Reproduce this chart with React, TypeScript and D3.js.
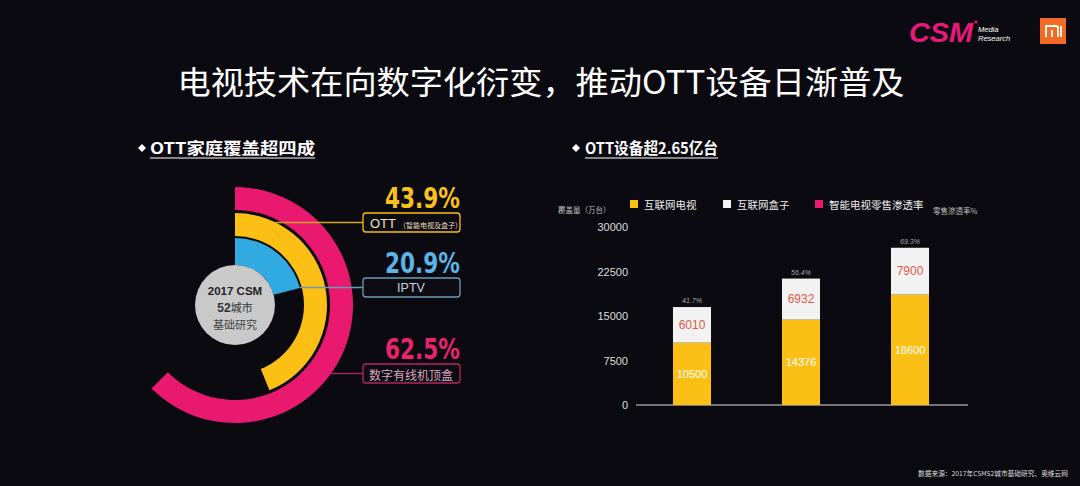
import React from "react";
import * as d3 from "d3";

const W = 1080;
const H = 486;

// Left: household coverage rings
const ringNames = ["数字有线机顶盒", "OTT", "IPTV"];
const ringValues = [62.5, 43.9, 20.9];
const ringLabels = ["62.5%", "43.9%", "20.9%"];

// Right: device stock (万台)
const years = ["2015", "2016", "2017"];
const ottTV = [10500, 14376, 18600];
const ottBox = [6010, 6932, 7900];
const penetration = ["41.7%", "56.4%", "69.3%"];
const yTicks = [0, 7500, 15000, 22500, 30000];
const legendNames = ["互联网电视", "互联网盒子", "智能电视零售渗透率"];

const CJK = "'Noto Sans CJK SC', 'Noto Sans', sans-serif";
const COND = "'DejaVu Sans Condensed', 'Liberation Sans', sans-serif";
const PINK = "#e8196f";
const YEL = "#fbbf15";
const BLUE = "#31aae2";

export default function App() {
  // ---- donut geometry
  const cx = 235, cy = 305;
  const rings = [
    { inner: 95, outer: 118, color: PINK, value: ringValues[0] },
    { inner: 69, outer: 92, color: YEL, value: ringValues[1] },
    { inner: 40, outer: 67, color: BLUE, value: ringValues[2] },
  ];
  const arcGen = d3.arc<any>();

  // label boxes
  const boxX = 363, boxW = 97, boxH = 19;
  const labelRows = [
    { y: 213, color: YEL, line: "#d6a422", pctColor: "#f9c11a", ring: 1, pct: ringLabels[1] },
    { y: 278, color: "#6d9ab8", line: "#6d9ab8", pctColor: "#5cb3e6", ring: 2, pct: ringLabels[2] },
    { y: 364, color: "#b0285e", line: "#b0285e", pctColor: "#e8246e", ring: 0, pct: ringLabels[0] },
  ];

  // ---- bar chart
  const y = d3.scaleLinear().domain([0, 30000]).range([405, 227]);
  const x = d3
    .scaleBand<string>()
    .domain(years)
    .range([637, 965])
    .paddingInner(0.651)
    .paddingOuter(0.33);
  const bw = x.bandwidth();

  return (
    <svg
      width={W}
      height={H}
      style={{ position: "absolute", left: 0, top: 0, display: "block" }}
    >
      <rect width={W} height={H} fill="#0b0a10" />

      {/* logos */}
      <text x={909} y={42} fill="#e8197a" fontFamily="'Liberation Sans', sans-serif" fontWeight="bold" fontStyle="italic" fontSize={27} textLength={64} lengthAdjust="spacingAndGlyphs">CSM</text>
      <circle cx={976} cy={22} r={1.6} fill="#e8197a" />
      <text x={978} y={32} fill="#ffffff" fontFamily="'Liberation Sans', sans-serif" fontStyle="italic" fontSize={7.5}>Media</text>
      <text x={978} y={41} fill="#ffffff" fontFamily="'Liberation Sans', sans-serif" fontStyle="italic" fontSize={7.5}>Research</text>
      <rect x={1040} y={18} width={26} height={26} fill="#f26b22" />
      <path d="M1046 37 V26 H1056 Q1058 26 1058 28 V37 M1052 30 V37 M1061 26 V37" stroke="#fff" strokeWidth={1.8} fill="none" />

      {/* title */}
      <text x={541} y={94} textAnchor="middle" fill="#ffffff" fontFamily={CJK} fontSize={32} textLength={727} lengthAdjust="spacingAndGlyphs">电视技术在向数字化衍变，推动OTT设备日渐普及</text>

      {/* section headers */}
      <path d="M138 148 L142 144 L146 148 L142 152 Z" fill="#fff" />
      <text x={150} y={154} fill="#ffffff" fontFamily={CJK} fontWeight="bold" fontSize={15.5} textLength={165} lengthAdjust="spacingAndGlyphs">OTT家庭覆盖超四成</text>
      <line x1={150} x2={315} y1={158} y2={158} stroke="#fff" strokeWidth={1} />
      <path d="M572 148 L576 144 L580 148 L576 152 Z" fill="#fff" />
      <text x={585} y={154} fill="#ffffff" fontFamily={CJK} fontWeight="bold" fontSize={15.5} textLength={133} lengthAdjust="spacingAndGlyphs">OTT设备超2.65亿台</text>
      <line x1={585} x2={718} y1={158} y2={158} stroke="#fff" strokeWidth={1} />

      {/* rings */}
      <g transform={`translate(${cx},${cy})`}>
        {rings.map((r, i) => (
          <path
            key={ringNames[i]}
            d={arcGen({
              innerRadius: r.inner,
              outerRadius: r.outer,
              startAngle: 0,
              endAngle: (r.value / 100) * 2 * Math.PI,
            }) as string}
            fill={r.color}
          />
        ))}
        <circle r={40} fill="#c9c9c9" />
        <text y={-10} textAnchor="middle" fill="#222" fontFamily="'Liberation Sans', sans-serif" fontWeight="bold" fontSize={11.5}>2017 CSM</text>
        <text y={7} textAnchor="middle" fill="#333" fontFamily={CJK} fontSize={11}>
          <tspan fontWeight="bold" fontFamily="'Liberation Sans', sans-serif" fontSize={12}>52</tspan>城市
        </text>
        <text y={24} textAnchor="middle" fill="#444" fontFamily={CJK} fontSize={11}>基础研究</text>
      </g>

      {/* leader lines & label boxes */}
      {labelRows.map((l, i) => {
        const ly = l.y + boxH / 2;
        const r = rings[l.ring];
        const dy = ly - cy;
        const rr = r.outer;
        const sx = cx + Math.sqrt(Math.max(rr * rr - dy * dy, 0));
        return (
          <g key={i}>
            <line x1={sx} x2={boxX} y1={ly} y2={ly} stroke={l.line} strokeWidth={1.3} />
            <rect x={boxX} y={l.y} width={boxW} height={boxH} rx={3} fill="#0d0c12" stroke={l.color} strokeWidth={1.3} />
            <text x={460} y={l.y - 5} textAnchor="end" fill={l.pctColor} fontFamily={COND} fontWeight="bold" fontSize={28} textLength={75} lengthAdjust="spacingAndGlyphs">{l.pct}</text>
          </g>
        );
      })}
      <text x={370} y={228} fill="#f1e3bd" fontFamily="'Liberation Sans', sans-serif" fontSize={13}>
        OTT
        <tspan dx={3} fontFamily={CJK} fontSize={7} fill="#e8dcc0">（智能电视及盒子）</tspan>
      </text>
      <text x={411} y={292} textAnchor="middle" fill="#c5d3e0" fontFamily="'Liberation Sans', sans-serif" fontSize={12.5}>IPTV</text>
      <text x={411} y={379.5} textAnchor="middle" fill="#d8a4bd" fontFamily={CJK} fontSize={12}>{ringNames[0]}</text>

      {/* legend */}
      <text x={558} y={213} fill="#bbbbbb" fontFamily={CJK} fontSize={7.5}>覆盖量（万台）</text>
      {[
        { sx: 630, color: YEL },
        { sx: 723, color: "#f2f2f2" },
        { sx: 815, color: PINK },
      ].map((lg, i) => (
        <g key={legendNames[i]}>
          <rect x={lg.sx} y={200} width={8} height={8} fill={lg.color} />
          <text x={lg.sx + 14} y={208.5} fill="#eeeeee" fontFamily={CJK} fontSize={10.5}>{legendNames[i]}</text>
        </g>
      ))}
      <text x={933} y={214} fill="#bbbbbb" fontFamily={CJK} fontSize={7.5}>零售渗透率%</text>

      {/* y axis labels */}
      {yTicks.map((t) => (
        <text key={t} x={628} y={y(t) + 4} textAnchor="end" fill="#dddddd" fontFamily="'Liberation Sans', sans-serif" fontSize={11}>{t}</text>
      ))}
      <line x1={636} x2={968} y1={405} y2={405} stroke="#9a9a9a" strokeWidth={1.5} />

      {/* bars */}
      {years.map((yr, i) => {
        const x0 = x(yr) as number;
        const tvTop = y(ottTV[i]);
        const boxTop = y(ottTV[i] + ottBox[i]);
        return (
          <g key={yr}>
            <rect x={x0} y={tvTop} width={bw} height={y(0) - tvTop} fill={YEL} />
            <rect x={x0} y={boxTop} width={bw} height={tvTop - boxTop} fill="#f2f2f2" />
            <text x={x0 + bw / 2} y={(tvTop + y(0)) / 2 + 4} textAnchor="middle" fill="#ffffff" fontFamily="'Liberation Sans', sans-serif" fontSize={11}>{ottTV[i]}</text>
            <text x={x0 + bw / 2} y={(boxTop + tvTop) / 2 + 4} textAnchor="middle" fill="#e0584a" fontFamily="'Liberation Sans', sans-serif" fontSize={12}>{ottBox[i]}</text>
            <text x={x0 + bw / 2} y={boxTop - 4} textAnchor="middle" fill="#a8a8a8" fontFamily="'Liberation Sans', sans-serif" fontStyle="italic" fontSize={7}>{penetration[i]}</text>
          </g>
        );
      })}

      {/* source */}
      <text x={918} y={476} fill="#dddddd" fontFamily={CJK} fontSize={6.5} textLength={150} lengthAdjust="spacingAndGlyphs">数据来源：2017年CSM52城市基础研究、奥维云网</text>
    </svg>
  );
}
